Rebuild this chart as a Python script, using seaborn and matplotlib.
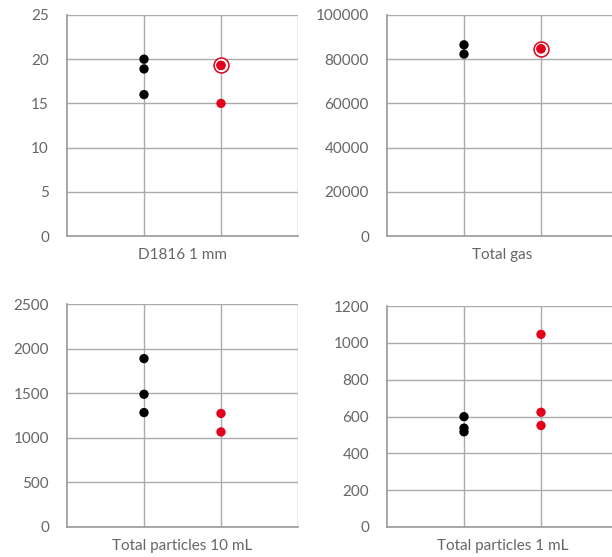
import numpy as np
import pandas as pd
import matplotlib
matplotlib.use("Agg")
import matplotlib.pyplot as plt
import seaborn as sns

# wartosci
groups = ["ref", "test"]

d1816_ref = [20.0, 18.9, 16.0]
d1816_test = [19.3, 19.3, 15.0]

gas_ref = [86500, 82300]
gas_test = [84700, 84700]

p10_ref = [1888, 1488, 1283]
p10_test = [1273, 1066]

p1_ref = [599, 537, 517]
p1_test = [1046, 623, 551]

titles = ["D1816 1 mm", "Total gas", "Total particles 10 mL", "Total particles 1 mL"]
yticks = [
    [0, 5, 10, 15, 20, 25],
    [0, 20000, 40000, 60000, 80000, 100000],
    [0, 500, 1000, 1500, 2000, 2500],
    [0, 200, 400, 600, 800, 1000, 1200],
]
series = [
    (d1816_ref, d1816_test),
    (gas_ref, gas_test),
    (p10_ref, p10_test),
    (p1_ref, p1_test),
]

sns.set_style("white")
plt.rcParams["font.family"] = ["Lato", "DejaVu Sans"]

kolory = {"ref": "#000000", "test": "#e2001a"}
szary_txt = "#666666"
szary_lin = "#ababab"

fig = plt.figure(figsize=(6.12, 5.57), dpi=100)
W, H = 612, 557
pozycje = [(67, 15, 236), (387, 15, 236), (67, 304, 527), (387, 306, 527)]

for i, (ref, test) in enumerate(series):
    left, top, bottom = pozycje[i]
    ax = fig.add_axes([left / W, (H - bottom) / H, 231 / W, (bottom - top) / H])

    df = pd.DataFrame({
        "grupa": ["ref"] * len(ref) + ["test"] * len(test),
        "x": [0] * len(ref) + [1] * len(test),
        "y": ref + test,
    })
    df["dup"] = df.duplicated(subset=["grupa", "y"], keep=False)

    # pierscien dla punktow nakladajacych sie
    dd = df[df["dup"]].drop_duplicates(subset=["grupa", "y"])
    ax.scatter(dd["x"], dd["y"], s=115, facecolors="white",
               edgecolors=[kolory[g] for g in dd["grupa"]], linewidths=1.1, zorder=3)

    sns.scatterplot(data=df, x="x", y="y", hue="grupa", palette=kolory,
                    s=45, linewidth=0, legend=False, ax=ax, zorder=4)

    ax.set_xlim(-1, 2)
    ax.set_xticks([0, 1, 2])
    ax.set_xticklabels([])
    ax.tick_params(axis="x", length=0)
    ax.set_ylim(yticks[i][0], yticks[i][-1])
    ax.set_yticks(yticks[i])
    ax.tick_params(axis="y", length=9, width=1, color=szary_lin,
                   labelcolor=szary_txt, labelsize=11, pad=4)
    ax.grid(True, color=szary_lin, linewidth=1)
    ax.set_axisbelow(True)
    for s in ["top", "right"]:
        ax.spines[s].set_visible(False)
    for s in ["left", "bottom"]:
        ax.spines[s].set_color("#999999")
        ax.spines[s].set_linewidth(1.2)
    ax.set_xlabel(titles[i], color=szary_txt, fontsize=11, labelpad=5)
    ax.set_ylabel("")

fig.savefig("out.png", dpi=100)
